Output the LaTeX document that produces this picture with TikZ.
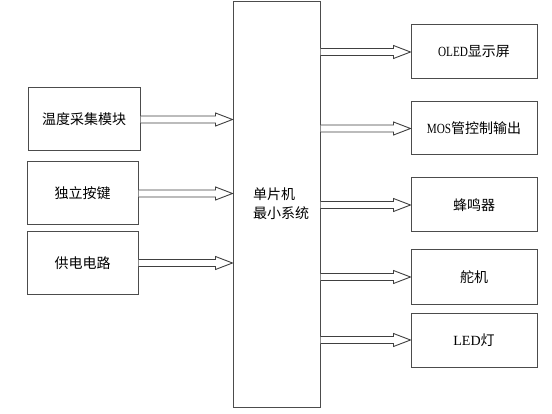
\documentclass[tikz,border=0pt]{standalone}
\usepackage{fontspec}
\usepackage{graphicx}
\setmainfont{Liberation Serif}
\newfontfamily\cjk{Noto Sans CJK SC}
\newcommand\lt[1]{\scalebox{0.8}[1]{\rmfamily\fontsize{14}{16}\selectfont #1}}
\usetikzlibrary{calc}
\newcommand\harrow[2]{%
  \draw[arr] let \p1=(#1), \p2=(#2) in
    (\x1,\y1+3.5pt) -- (\x2-17pt,\y1+3.5pt) -- (\x2-17pt,\y1+6.5pt) -- (\x2,\y1)
    -- (\x2-17pt,\y1-6.5pt) -- (\x2-17pt,\y1-3.5pt) -- (\x1,\y1-3.5pt);}
\begin{document}
\begin{tikzpicture}[x=1pt,y=1pt,
  box/.style={draw=black!70, line width=1pt, inner sep=0pt, font=\cjk\fontsize{14}{19}\selectfont},
  arr/.style={draw=black!75, line width=0.9pt, fill=white, line join=miter},
  lbl/.style={inner sep=0pt, align=left, font=\cjk\fontsize{14}{19}\selectfont}]
\useasboundingbox (0,0) rectangle (552,413);
% left boxes
\node[box, minimum width=112, minimum height=63] (temp) at (84,413-119.5) {温度采集模块};
\node[box, minimum width=111, minimum height=63] (key) at (82.5,413-193.5) {独立按键};
\node[box, minimum width=111, minimum height=62] (pwr) at (82.5,413-263) {供电电路};
% center
\node[box, minimum width=87, minimum height=405] (mcu) at (276.5,413-204.5) {};
\node[lbl] (mcul) at (281,413-203.5) {单片机\\最小系统};
% right boxes
\node[box, minimum width=126, minimum height=54] (oled) at (474,413-52) {\lt{OLED}显示屏};
\node[box, minimum width=126, minimum height=53] (mos) at (474,413-128.5) {\lt{MOS}管控制输出};
\node[box, minimum width=126, minimum height=54] (buz) at (474,413-205) {蜂鸣器};
\node[box, minimum width=126, minimum height=54] (servo) at (474,413-277) {舵机};
\node[box, minimum width=126, minimum height=54] (led) at (474,413-340) {{\rmfamily\fontsize{14}{16}\selectfont LED}灯};
% arrows
\harrow{temp.east}{mcu.west |- temp.east}
\harrow{key.east}{mcu.west |- key.east}
\harrow{pwr.east}{mcu.west |- pwr.east}
\harrow{mcu.east |- oled.west}{oled.west}
\harrow{mcu.east |- mos.west}{mos.west}
\harrow{mcu.east |- buz.west}{buz.west}
\harrow{mcu.east |- servo.west}{servo.west}
\harrow{mcu.east |- led.west}{led.west}
\end{tikzpicture}
\end{document}
